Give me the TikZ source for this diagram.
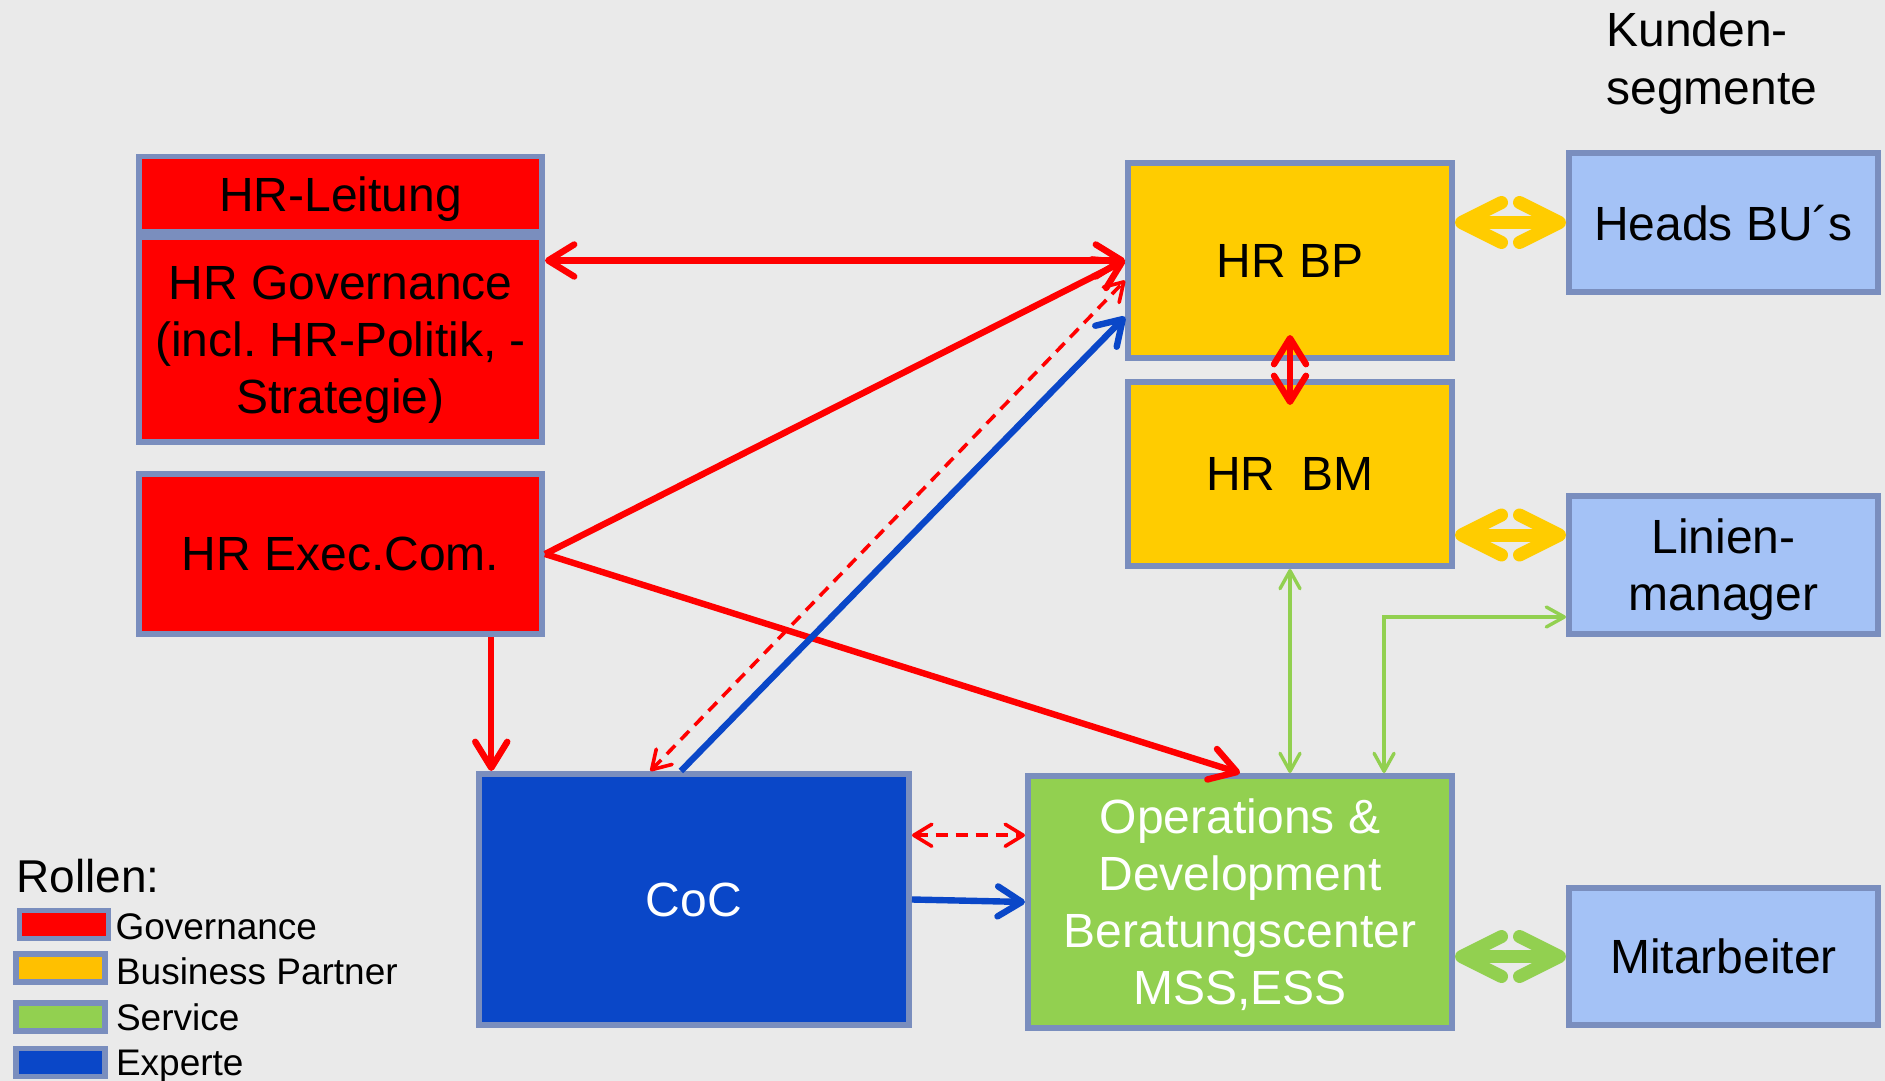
\documentclass[tikz,border=0pt]{standalone}
\usepackage{fontspec}
\setmainfont{Liberation Sans}
\usetikzlibrary {arrows.meta}
\usetikzlibrary {calc}
\usetikzlibrary {positioning}

\definecolor{govred}{HTML}{FF0000}
\definecolor{bpyellow}{HTML}{FFCC00}
\definecolor{legyellow}{HTML}{FFC000}
\definecolor{svgreen}{HTML}{92D050}
\definecolor{expblue}{HTML}{0A47C8}
\definecolor{custblue}{HTML}{A4C2F6}
\definecolor{frame}{HTML}{7A8EBE}
\definecolor{bg}{HTML}{EAEAEA}
\frenchspacing

\begin{document}
\begin{tikzpicture}[x=0.5pt, y=-0.5pt,
        box/.style={draw=frame, line width=2.8pt, align=center, inner sep=0pt,
            text depth=0pt, font=\fontsize{24}{28.5}\selectfont},
        swatch/.style={draw=frame, line width=2.6pt, minimum width=44.5pt,
            minimum height=14pt, inner sep=0pt},
        legtext/.style={inner sep=0pt, text height=13.3pt, text depth=0pt,
            font=\fontsize{18.5}{22}\selectfont},
        redarrow/.style={govred, line width=3.2pt,
            arrows={Straight Barb[length=13pt, width=16pt, round]-Straight Barb[length=13pt, width=16pt, round]}},
        redtip/.style={govred, line width=3.2pt,
            -{Straight Barb[length=13pt, width=16pt, round]}},
        dashedarrow/.style={govred, line width=1.8pt, dash pattern=on 6pt off 4pt,
            {Straight Barb[length=9pt, width=11pt, round]}-{Straight Barb[length=9pt, width=11pt, round]}},
        bluearrow/.style={expblue, line width=3.2pt,
            -{Straight Barb[length=12pt, width=15pt, round]}},
        fatarrow/.style={line width=6.5pt,
            {Straight Barb[length=20pt, width=20pt, round]}-{Straight Barb[length=20pt, width=20pt, round]}},
        greenarrow/.style={svgreen, line width=1.7pt,
            {Straight Barb[length=9pt, width=10pt, round]}-{Straight Barb[length=9pt, width=10pt, round]}}]

    \fill[bg] (0, 0) rectangle (1885, 1081);

    \node[box, fill=govred, minimum width=201.7pt, minimum height=37.5pt] (lead) at (340.5, 194) {HR-Leitung};
    \node[box, fill=govred, minimum width=201.7pt, minimum height=102.7pt] (gov) at (340.5, 339.5)
        {HR Governance\\(incl. HR-Politik, -\\Strategie)};
    \node[box, fill=govred, minimum width=201.7pt, minimum height=80.2pt] (exec) at (340.5, 554) {HR Exec.Com.};
    \node[box, fill=bpyellow, minimum width=162.2pt, minimum height=97.7pt] (bp) at (1290, 260.5) {HR BP};
    \node[box, fill=bpyellow, minimum width=162.2pt, minimum height=92.2pt] (bm) at (1290, 474) {HR\ \ BM};
    \node[box, fill=custblue, minimum width=154.7pt, minimum height=69.7pt] (heads) at (1723.5, 222.5) {Heads BU´s};
    \node[box, fill=custblue, minimum width=154.7pt, minimum height=69.2pt] (linien) at (1723.5, 565) {Linien-\\manager};
    \node[box, fill=custblue, minimum width=154.7pt, minimum height=68.7pt] (mitarb) at (1723.5, 956.5) {Mitarbeiter};
    \node[box, fill=expblue, text=white, minimum width=215.2pt, minimum height=125.7pt] (coc) at (694, 899.5) {CoC};
    \node[box, fill=svgreen, text=white, minimum width=212.2pt, minimum height=126.2pt] (ops) at (1240, 902)
        {Operations \&\\Development\\Beratungscenter\\MSS,ESS};

    \node[anchor=west, align=left, inner sep=0pt, font=\fontsize{24}{29}\selectfont] (kunden) at (1606, 63)
        {Kunden-\\segmente};

    \node[legtext, anchor=west, font=\fontsize{23}{27}\selectfont, text height=16.5pt] (rollen) at (16, 876) {Rollen:};
    \node[swatch, fill=govred] (sgov) at (64, 924.5) {};
    \node[swatch, fill=legyellow] (sbp) at (60.5, 968) {};
    \node[swatch, fill=svgreen] (ssv) at (60.5, 1017) {};
    \node[swatch, fill=expblue] (sexp) at (60.5, 1062.5) {};
    \node[legtext, right=2pt of sgov, yshift=-1pt] {Governance};
    \node[legtext, right=4pt of sbp, yshift=-1.5pt] {Business Partner};
    \node[legtext, right=4pt of ssv] {Service};
    \node[legtext, right=4pt of sexp] {Experte};

    \coordinate (cocin) at ($(coc.north west)!0.035!(coc.north east)$);
    \coordinate (cocdash) at ($(coc.north west)!0.4!(coc.north east)$);
    \coordinate (cocblue) at ($(coc.north west)!0.47!(coc.north east)$);
    \coordinate (bpdash) at ($(bp.north west)!0.6!(bp.south west)$);
    \coordinate (bpblue) at ($(bp.north west)!0.78!(bp.south west)$);
    \coordinate (bpin) at ($(bp.south)+(0, -26)$);
    \coordinate (bmin) at ($(bm.north)+(0, 26)$);
    \coordinate (linin) at ($(linien.west)+(0, -30)$);
    \coordinate (linlow) at ($(linien.south west)+(0, -20)$);
    \coordinate (opsin) at ($(ops.north west)!0.835!(ops.north east)$);
    \coordinate (cocmid) at ($(coc.north east)!0.25!(coc.south east)$);

    \draw [redarrow] (gov.east |- bp.west) -- (bp.west);
    \draw [redtip] (exec.east) -- (bp.west);
    \draw [redtip] (exec.east) -- (ops.north);
    \draw [redtip] (exec.south -| cocin) -- (cocin);
    \draw [dashedarrow] (cocdash) -- (bpdash);
    \draw [bluearrow] (cocblue) -- (bpblue);
    \draw [redarrow] (bpin) -- (bmin);
    \draw [fatarrow, bpyellow] (bp.east |- heads.west) -- (heads.west);
    \draw [fatarrow, bpyellow] (bm.east |- linin) -- (linin);
    \draw [greenarrow] (bm.south) -- (bm.south |- ops.north);
    \draw [greenarrow] (linlow) -| (opsin);
    \draw [dashedarrow] (cocmid) -- (cocmid -| ops.west);
    \draw [bluearrow] (coc.east) -- (ops.west);
    \draw [fatarrow, svgreen] (ops.east |- mitarb.west) -- (mitarb.west);
\end{tikzpicture}
\end{document}
